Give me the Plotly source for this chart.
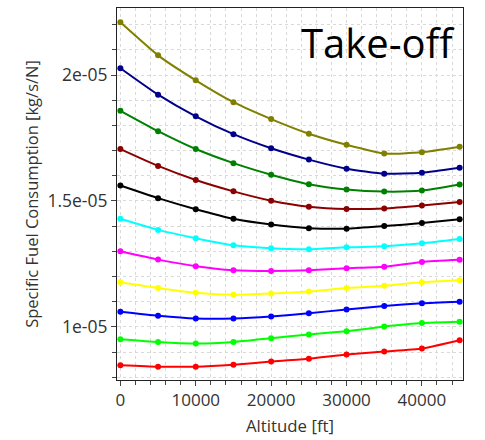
import plotly.graph_objects as go

altitude = [0, 5000, 10000, 15000, 20000, 25000, 30000, 35000, 40000, 45000]

s_olive = [2.209e-5, 2.078e-5, 1.979e-5, 1.892e-5, 1.825e-5, 1.767e-5, 1.723e-5, 1.688e-5, 1.693e-5, 1.715e-5]
s_navy = [2.027e-5, 1.922e-5, 1.836e-5, 1.765e-5, 1.709e-5, 1.664e-5, 1.628e-5, 1.608e-5, 1.612e-5, 1.632e-5]
s_green = [1.858e-5, 1.777e-5, 1.706e-5, 1.650e-5, 1.604e-5, 1.566e-5, 1.545e-5, 1.537e-5, 1.541e-5, 1.565e-5]
s_darkred = [1.706e-5, 1.639e-5, 1.583e-5, 1.538e-5, 1.501e-5, 1.477e-5, 1.468e-5, 1.470e-5, 1.482e-5, 1.496e-5]
s_black = [1.561e-5, 1.511e-5, 1.467e-5, 1.429e-5, 1.406e-5, 1.392e-5, 1.390e-5, 1.400e-5, 1.412e-5, 1.427e-5]
s_cyan = [1.429e-5, 1.385e-5, 1.352e-5, 1.324e-5, 1.312e-5, 1.308e-5, 1.316e-5, 1.320e-5, 1.332e-5, 1.349e-5]
s_magenta = [1.300e-5, 1.267e-5, 1.241e-5, 1.225e-5, 1.222e-5, 1.225e-5, 1.233e-5, 1.239e-5, 1.258e-5, 1.266e-5]
s_yellow = [1.177e-5, 1.154e-5, 1.135e-5, 1.127e-5, 1.132e-5, 1.140e-5, 1.154e-5, 1.163e-5, 1.177e-5, 1.185e-5]
s_blue = [1.060e-5, 1.044e-5, 1.033e-5, 1.033e-5, 1.041e-5, 1.054e-5, 1.069e-5, 1.083e-5, 1.094e-5, 1.100e-5]
s_lime = [0.951e-5, 0.940e-5, 0.934e-5, 0.940e-5, 0.955e-5, 0.970e-5, 0.983e-5, 1.001e-5, 1.015e-5, 1.020e-5]
s_red = [0.848e-5, 0.842e-5, 0.842e-5, 0.850e-5, 0.862e-5, 0.873e-5, 0.890e-5, 0.902e-5, 0.914e-5, 0.947e-5]

series = [s_olive, s_navy, s_green, s_darkred, s_black, s_cyan, s_magenta, s_yellow, s_blue, s_lime, s_red]
colors = ["#808000", "#00008B", "#008000", "#8B0000", "#000000", "#00FFFF",
          "#FF00FF", "#FFFF00", "#0000FF", "#00FF00", "#FF0000"]

y_tickvals = [1e-5, 1.5e-5, 2e-5]
y_ticktext = ["1e-05", "1.5e-05", "2e-05"]
x_tickvals = [0, 10000, 20000, 30000, 40000]
x_ticktext = ["0", "10000", "20000", "30000", "40000"]

title_text = "Take-off"
x_title = "Altitude [ft]"
y_title = "Specific Fuel Consumption [kg/s/N]"

fig = go.Figure()
for ys, c in zip(series, colors):
    fig.add_trace(go.Scatter(x=altitude, y=ys, mode="lines+markers",
                             line=dict(color=c, width=2, shape="spline", smoothing=0.5),
                             marker=dict(color=c, size=6), showlegend=False))

font_family = "Open Sans, DejaVu Sans, sans-serif"
grid_col = "#d9d9d9"
txt_col = "#333333"

fig.update_layout(
    width=485, height=440,
    margin=dict(l=117, r=22, t=8, b=60),
    paper_bgcolor="white", plot_bgcolor="white",
    font=dict(family=font_family, size=16, color=txt_col),
    xaxis=dict(
        range=[-450, 45450], automargin=False,
        tickvals=x_tickvals, ticktext=x_ticktext,
        ticks="outside", ticklen=5, tickcolor="#444444",
        showline=True, linecolor="#222222", linewidth=1, mirror=True,
        showgrid=True, gridcolor=grid_col, griddash="dot", gridwidth=1,
        zeroline=False,
        minor=dict(dtick=2000, tick0=0, ticks="outside", ticklen=4, tickcolor="#444444",
                   showgrid=True, gridcolor=grid_col, griddash="dot", gridwidth=1),
        title=dict(text=x_title, font=dict(size=16.8, color=txt_col), standoff=9),
        tickfont=dict(size=17, color=txt_col),
    ),
    yaxis=dict(
        range=[7.89e-6, 2.266e-5], automargin=False,
        tickvals=y_tickvals, ticktext=y_ticktext,
        ticks="outside", ticklen=5, tickcolor="#444444",
        showline=True, linecolor="#222222", linewidth=1, mirror=True,
        showgrid=True, gridcolor=grid_col, griddash="dot", gridwidth=1,
        zeroline=False,
        minor=dict(dtick=1e-6, tick0=0, ticks="outside", ticklen=4, tickcolor="#444444",
                   showgrid=True, gridcolor=grid_col, griddash="dot", gridwidth=1),
        title=dict(text=y_title, font=dict(size=16.5, color=txt_col), standoff=4),
        tickfont=dict(size=17.5, color=txt_col),
    ),
    annotations=[dict(text=title_text, xref="paper", yref="paper", x=1, y=1,
                      xanchor="right", yanchor="top", xshift=-6, yshift=-5,
                      showarrow=False, font=dict(size=40, color="black", family=font_family))],
)

fig.write_html("out.html", config={"displayModeBar": False},
               post_script="document.body.style.margin='0';")
